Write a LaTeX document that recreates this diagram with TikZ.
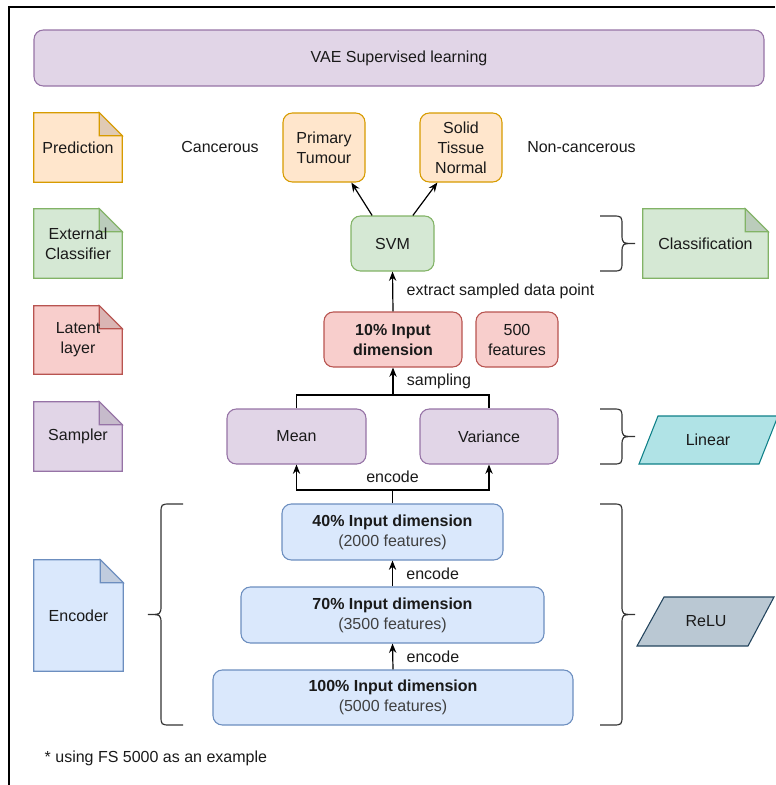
\documentclass[tikz,border=0pt]{standalone}
\usepackage{fontspec}
\setmainfont{Liberation Sans}
\usetikzlibrary{arrows.meta, positioning, calc, backgrounds}

\definecolor{purplefill}{HTML}{E1D5E7}\definecolor{purpleline}{HTML}{9673A6}
\definecolor{orangefill}{HTML}{FFE6CC}\definecolor{orangeline}{HTML}{D79B00}
\definecolor{greenfill}{HTML}{D5E8D4}\definecolor{greenline}{HTML}{82B366}
\definecolor{redfill}{HTML}{F8CECC}\definecolor{redline}{HTML}{B85450}
\definecolor{bluefill}{HTML}{DAE8FC}\definecolor{blueline}{HTML}{6C8EBF}
\definecolor{tealfill}{HTML}{B0E3E6}\definecolor{tealline}{HTML}{0E8088}
\definecolor{slatefill}{HTML}{BAC8D3}\definecolor{slateline}{HTML}{23445D}
\definecolor{inktext}{HTML}{1A1A1A}

% folded-corner note drawn behind a named node
\newcommand{\notebox}[3]{%
  \begin{pgfonlayer}{background}
    \draw[#3, line width=0.8pt, fill=#2] (#1.north west) -- ($(#1.north east)+(-23,0)$)
      -- ($(#1.north east)+(0,23)$) -- (#1.south east) -- (#1.south west) -- cycle;
    \draw[#3, line width=0.8pt, fill=#2!88!black] ($(#1.north east)+(-23,0)$)
      -- ($(#1.north east)+(-23,23)$) -- ($(#1.north east)+(0,23)$) -- cycle;
  \end{pgfonlayer}}

% curly bracket: x of ends, side (1 right, -1 left), top, bottom
\newcommand{\sidebrace}[4]{%
  \draw[brak] (#1,#3) -- ({#1+(#2)*12},#3) .. controls ({#1+(#2)*22},#3) .. ({#1+(#2)*22},{#3+10})
    -- ({#1+(#2)*22},{(#3+#4)/2-10}) .. controls ({#1+(#2)*22},{(#3+#4)/2}) .. ({#1+(#2)*35},{(#3+#4)/2})
    .. controls ({#1+(#2)*22},{(#3+#4)/2}) .. ({#1+(#2)*22},{(#3+#4)/2+10})
    -- ({#1+(#2)*22},{#4-10}) .. controls ({#1+(#2)*22},#4) .. ({#1+(#2)*12},#4) -- (#1,#4);}

\begin{document}
\begin{tikzpicture}[
  x=0.75pt, y=-0.75pt,
  font=\fontsize{12}{15}\selectfont,
  every node/.append style={text=inktext},
  sz/.style 2 args={minimum width=#1*0.75pt, minimum height=#2*0.75pt},
  box/.style={draw, rounded corners=7pt, line width=0.8pt, align=center, inner sep=2pt},
  note/.style={align=center, inner sep=2pt},
  arrow/.style={-{Stealth[length=7pt, width=5.5pt]}, line width=0.9pt},
  link/.style={line width=0.9pt},
  lbl/.style={inner sep=0pt},
  brak/.style={line width=0.9pt, black!80},
  slant/.style={line width=0.8pt}
]
\useasboundingbox (0,0) rectangle (775,785);

% Frame
\draw[line width=1.3pt] (9,785) -- (9,7) -- (775,7);

% Title
\node[box, sz={730}{56}, fill=purplefill, draw=purpleline] (title) at (399,58) {VAE Supervised learning};

% Legend notes on the left
\node[note, sz={88}{69}] (prednote) at (78,147.5) {Prediction};
\notebox{prednote}{orangefill}{orangeline}
\node[note, sz={88}{69}] (extnote) at (78,243.5) {External\\Classifier};
\notebox{extnote}{greenfill}{greenline}
\node[note, sz={88}{68}] (latnote) at (78,340) {Latent\\layer};
\notebox{latnote}{redfill}{redline}
\node[note, sz={88}{69}] (sampnote) at (78,436.5) {Sampler};
\notebox{sampnote}{purplefill}{purpleline}
\node[note, sz={89}{111}] (encnote) at (78.5,615.5) {Encoder};
\notebox{encnote}{bluefill}{blueline}

% Prediction row
\node (cancer) at (220,147) {Cancerous};
\node[box, sz={82}{69}, fill=orangefill, draw=orangeline] (primary) at (324,147.5) {Primary\\Tumour};
\node[box, sz={82}{69}, fill=orangefill, draw=orangeline] (solid) at (461,147.5) {Solid\\Tissue\\Normal};
\node (noncancer) at (581.5,147) {Non-cancerous};

% Classifier
\node[box, sz={83}{55}, fill=greenfill, draw=greenline] (svm) at (392.5,243.5) {SVM};
\node[note, sz={125}{69}] (clsnote) at (705.5,243.5) {Classification};
\notebox{clsnote}{greenfill}{greenline}

% Latent layer
\node[box, sz={138}{55}, fill=redfill, draw=redline] (lat) at (393,339.5) {\textbf{10\% Input}\\\textbf{dimension}};
\node[box, sz={82}{55}, fill=redfill, draw=redline] (feat) at (517,339.5) {500\\features};

% Sampler
\node[box, sz={139}{55}, fill=purplefill, draw=purpleline] (mean) at (296.5,436.5) {Mean};
\node[box, sz={138}{55}, fill=purplefill, draw=purpleline] (var) at (489,436.5) {Variance};

% Encoder stack
\node[box, sz={221}{56}, fill=bluefill, draw=blueline] (enc40) at (392.5,532) {\textbf{40\% Input dimension}\\\textcolor{black!75}{(2000 features)}};
\node[box, sz={303}{56}, fill=bluefill, draw=blueline] (enc70) at (392.5,615) {\textbf{70\% Input dimension}\\\textcolor{black!75}{(3500 features)}};
\node[box, sz={360}{55}, fill=bluefill, draw=blueline] (enc100) at (393,697.5) {\textbf{100\% Input dimension}\\\textcolor{black!75}{(5000 features)}};

% Activation shapes
\draw[slant, fill=tealfill, draw=tealline] (639,464) -- (658,416) -- (778,416) -- (759,464) -- cycle;
\node (linear) at (708,440) {Linear};
\draw[slant, fill=slatefill, draw=slateline] (637,646) -- (664,597) -- (774,597) -- (748,646) -- cycle;
\node (relu) at (706,621.5) {ReLU};

% Connectors
\draw[arrow] (enc100.north) -- (enc70.south) node[lbl, midway, right=10pt] {encode};
\draw[arrow] (enc70.north) -- (enc40.south) node[lbl, midway, right=10pt] {encode};
\coordinate (ej) at (392.5,490);
\draw[link] (enc40.north) -- (ej);
\draw[arrow] (ej) -| (mean.south);
\draw[arrow] (ej) -| (var.south);
\node[lbl, above=5pt] (enclbl) at (ej) {encode};
\coordinate (sj) at (393,395);
\draw[link] (mean.north) |- (sj) -| (var.north);
\draw[arrow] (sj) -- (lat.south) node[lbl, midway, right=10pt] {sampling};
\draw[arrow] (lat.north) -- (svm.south) node[lbl, midway, right=10pt] {extract sampled data point};
\draw[arrow] (svm.126) -- (primary.-52);
\draw[arrow] (svm.54) -- (solid.-124);

% Brackets
\sidebrace{600}{1}{216}{271}
\sidebrace{600}{1}{409}{464}
\sidebrace{600}{1}{504}{725}
\sidebrace{183}{-1}{504}{725}

% Footnote
\node[anchor=west] (foot) at (40,758) {* using FS 5000 as an example};

\end{tikzpicture}
\end{document}
